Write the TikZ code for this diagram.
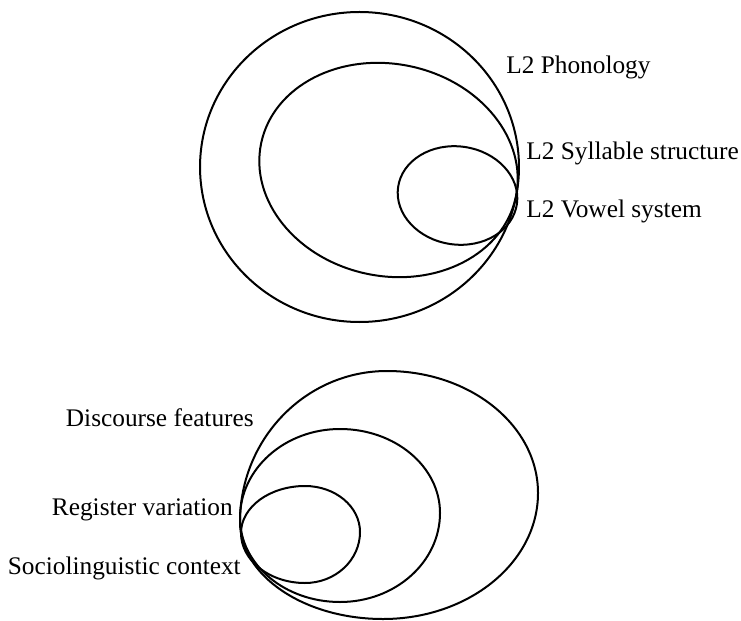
\documentclass[tikz,border=0pt]{standalone}
\usepackage{fontspec}
\setmainfont{Liberation Serif}
\begin{document}
\begin{tikzpicture}[x=0.75pt,y=-0.75pt,
  ring/.style={draw=black,line width=1.5pt},
  lbl/.style={inner sep=0pt,font=\fontsize{19}{23}\selectfont}]
\useasboundingbox (0,0) rectangle (741,620);
% top group
\coordinate (tA) at (359.5,167);
\coordinate (tB) at (388.5,170);
\coordinate (tC) at (457.5,195.5);
\draw[ring] (tA) ellipse [x radius=119.6pt, y radius=116.25pt];
\draw[ring, rotate around={-12:(tB)}] (tB) ellipse [x radius=97.6pt, y radius=79.5pt];
\draw[ring, rotate around={-8:(tC)}] (tC) ellipse [x radius=45pt, y radius=36.8pt];
\node[lbl,anchor=base west] (phon) at (506,74) {L2 Phonology};
\node[lbl,anchor=base west] (syll) at (526,160) {L2 Syllable structure};
\node[lbl,anchor=base west] (vow) at (526,218) {L2 Vowel system};
% bottom group
\draw[ring] (387,371) .. controls (470.4,371) and (538,425.6) .. (538,493)
  .. controls (538,562.6) and (468.6,619) .. (383,619)
  .. controls (304,619) and (240,575.6) .. (240,522)
  .. controls (240,438.6) and (305.8,371) .. (387,371) -- cycle;
\draw[ring] (340,429) .. controls (395.2,429) and (440,466.6) .. (440,513)
  .. controls (440,562.2) and (395.2,602) .. (340,602)
  .. controls (284.8,602) and (240,564.4) .. (240,518)
  .. controls (240,468.8) and (284.8,429) .. (340,429) -- cycle;
\draw[ring] (305,486) .. controls (335.4,486) and (360,506.6) .. (360,532)
  .. controls (360,560.2) and (335.4,583) .. (305,583)
  .. controls (269.7,583) and (241,560.6) .. (241,533)
  .. controls (241,507) and (269.7,486) .. (305,486) -- cycle;
\node[lbl,anchor=base east] (disc) at (254,426) {Discourse features};
\node[lbl,anchor=base east] (reg) at (233,515) {Register variation};
\node[lbl,anchor=base east] (soc) at (241,574) {Sociolinguistic context};
\end{tikzpicture}
\end{document}
